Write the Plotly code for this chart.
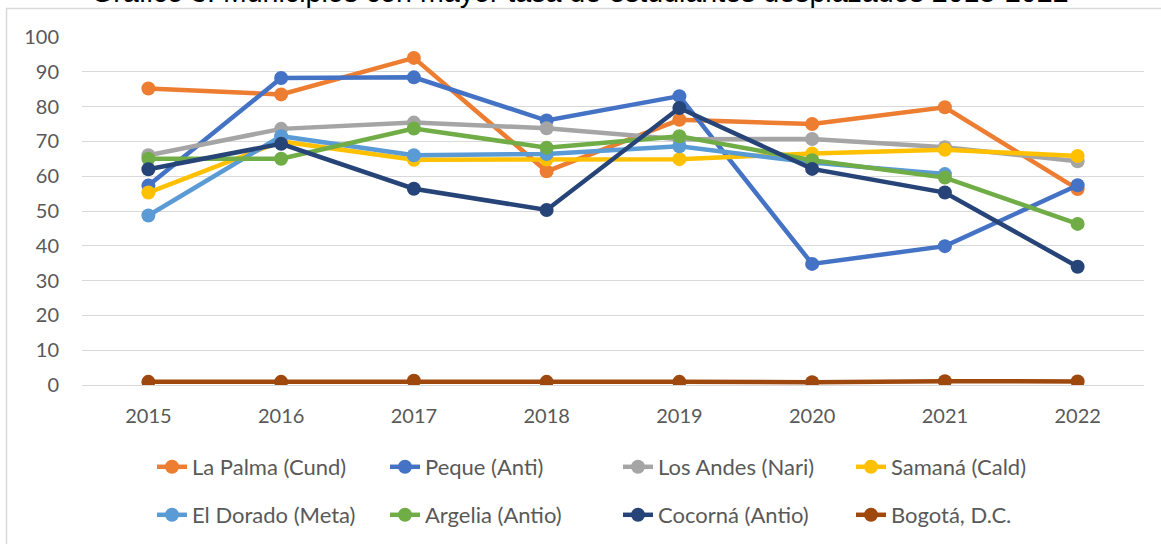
import plotly.graph_objects as go

years = ["2015", "2016", "2017", "2018", "2019", "2020", "2021", "2022"]

la_palma = [85.2, 83.5, 94.0, 61.4, 76.2, 75.0, 79.8, 56.3]
peque = [57.3, 88.2, 88.4, 76.0, 83.0, 34.8, 39.9, 57.4]
los_andes = [66.0, 73.6, 75.4, 73.8, 70.6, 70.7, 68.3, 64.3]
samana = [55.3, 70.0, 64.7, 64.8, 64.9, 66.5, 67.6, 65.8]
el_dorado = [48.7, 71.5, 66.0, 66.4, 68.6, 63.9, 60.6, None]
argelia = [65.0, 65.0, 73.7, 68.2, 71.5, 64.6, 59.6, 46.3]
cocorna = [62.0, 69.3, 56.4, 50.3, 79.6, 62.1, 55.3, 34.0]
bogota = [0.9, 0.9, 1.2, 0.9, 0.9, 0.8, 1.1, 1.0]

series_names = ["La Palma (Cund)", "Peque (Anti)", "Los Andes (Nari)", "Samaná (Cald)",
                "El Dorado (Meta)", "Argelia (Antio)", "Cocorná (Antio)", "Bogotá, D.C."]
series_values = [la_palma, peque, los_andes, samana, el_dorado, argelia, cocorna, bogota]
colors = ["#ED7D31", "#4472C4", "#A5A5A5", "#FFC000", "#5B9BD5", "#70AD47", "#264478", "#9E480E"]

title_text = "Gráfico 3. Municipios con mayor tasa de estudiantes desplazados 2015-2022"

W, H = 1161, 544
plot_left, plot_right = 82, 1144.4
plot_top, plot_bottom = 37.4, 385.4
L, R, T, B = plot_left, W - plot_right, plot_top, H - plot_bottom
plot_w = plot_right - plot_left
plot_h = plot_bottom - plot_top


def px_x(s):
    return (s - plot_left) / plot_w


def px_y(s):
    return (plot_bottom - s) / plot_h


def cx(s):
    return s / W


def cy(s):
    return 1 - s / H


fig = go.Figure()
for i, (name, vals, col) in enumerate(zip(series_names, series_values, colors)):
    fig.add_trace(go.Scatter(
        x=years, y=vals, name=name, mode="lines+markers",
        line=dict(color=col, width=4.5),
        marker=dict(color=col, size=14),
        legend="legend" if i < 4 else "legend2",
        connectgaps=False,
    ))

font_ticks = dict(family="Lato, 'Open Sans', sans-serif", size=20, color="#595959")
legend_common = dict(
    orientation="h", xref="container", yref="container", xanchor="left", yanchor="middle",
    entrywidth=188, entrywidthmode="pixels", bgcolor="rgba(0,0,0,0)",
    font=dict(family="Lato, 'Open Sans', sans-serif", size=22, color="#595959"),
    traceorder="normal", itemclick=False,
)

fig.update_layout(
    width=W, height=H,
    margin=dict(l=L, r=R, t=T, b=B, pad=0, autoexpand=False),
    paper_bgcolor="white", plot_bgcolor="white",
    showlegend=True,
    legend=dict(legend_common, x=cx(152), y=cy(467)),
    legend2=dict(legend_common, x=cx(152), y=cy(515)),
    xaxis=dict(
        type="category", range=[-0.5, 7.5], showgrid=False, zeroline=False,
        showline=False, ticks="", tickfont=font_ticks, ticklabelstandoff=17,
        automargin=False,
    ),
    yaxis=dict(
        range=[0, 100], dtick=10, tick0=0, showgrid=True, gridcolor="#D9D9D9",
        gridwidth=1.3, zeroline=True, zerolinecolor="#D9D9D9", zerolinewidth=1.3,
        showline=False, ticks="", tickfont=font_ticks, ticklabelstandoff=22,
        automargin=False,
    ),
    shapes=[dict(
        type="rect", xref="paper", yref="paper",
        x0=px_x(6.5), x1=px_x(1175), y0=px_y(570), y1=px_y(9),
        line=dict(color="#D9D9D9", width=1.5), fillcolor="rgba(0,0,0,0)", layer="above",
    )],
    annotations=[dict(
        text=title_text, xref="paper", yref="paper", x=px_x(580), y=px_y(10.5),
        xanchor="center", yanchor="bottom", showarrow=False,
        font=dict(family="Liberation Sans, Arial, sans-serif", size=28.6, color="#000000"),
    )],
)

fig.write_html("out.html", config={"displayModeBar": False},
               post_script="document.body.style.margin='0px';")
